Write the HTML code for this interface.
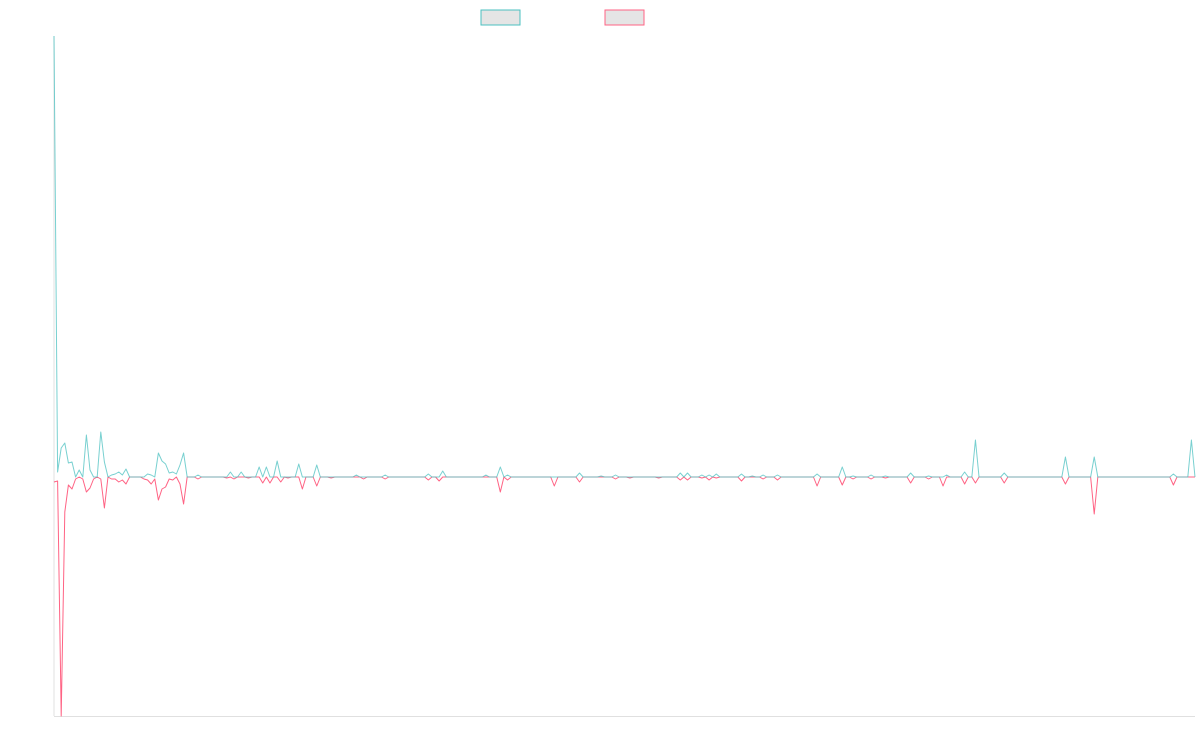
<!DOCTYPE html>
<html><head><meta charset="utf-8"><style>
html,body{margin:0;padding:0;background:#fff;}
svg{display:block;font-family:"Liberation Sans",sans-serif;}
</style></head><body>
<svg id="chart" width="1200" height="750" viewBox="0 0 1200 750" xmlns="http://www.w3.org/2000/svg">
<g>
<rect x="481" y="10" width="39" height="15" fill="#e5e5e5" stroke="rgb(75,192,192)" stroke-width="1"/>
<rect x="605" y="10" width="39" height="15" fill="#e5e5e5" stroke="rgb(255,99,132)" stroke-width="1"/>
</g>
<line x1="54" y1="36" x2="54" y2="716" stroke="#e0e0e0"/>
<line x1="54" y1="716.5" x2="1195" y2="716.5" stroke="#e0e0e0"/>
<g id="plot"></g>
</svg>
<script>
const seriesA = [
441,5,29,34,14,15,0,7,0,42,7,0,0,45,15,0,2,3,5,2,
8,0,0,0,0,0,3,2,0,24,16,13,4,5,3,12,24,0,0,0,
2,0,0,0,0,0,0,0,0,5,0,0,5,0,0,0,0,10,0,10,
0,0,16,0,0,0,0,0,13,0,0,0,0,12,0,0,0,0,0,0,
0,0,0,0,2,0,0,0,0,0,0,0,2,0,0,0,0,0,0,0,
0,0,0,0,3,0,0,0,6,0,0,0,0,0,0,0,0,0,0,0,
2,0,0,0,10,0,2,0,0,0,0,0,0,0,0,0,0,0,0,0,
0,0,0,0,0,0,4,0,0,0,0,0,1,0,0,0,2,0,0,0,
0,0,0,0,0,0,0,0,0,0,0,0,0,0,4,0,4,0,0,0,
2,0,2,0,3,0,0,0,0,0,0,3,0,0,1,0,0,2,0,0,
0,2,0,0,0,0,0,0,0,0,0,0,3,0,0,0,0,0,0,10,
0,0,1,0,0,0,0,2,0,0,0,1,0,0,0,0,0,0,4,0,
0,0,0,1,0,0,0,0,2,0,0,0,0,5,0,0,37,0,0,0,
0,0,0,0,4,0,0,0,0,0,0,0,0,0,0,0,0,0,0,0,
0,20,0,0,0,0,0,0,0,20,0,0,0,0,0,0,0,0,0,0,
0,0,0,0,0,0,0,0,0,0,0,3,0,0,0,0,37,0];
const seriesB = [
-5,-4,-239,-35,-8,-12,-2,0,-2,-15,-11,-2,0,-2,-31,0,-2,-2,-5,-3,
-7,0,0,0,0,-2,-3,-7,-2,-23,-12,-10,-2,-3,0,-7,-27,0,0,0,
-2,0,0,0,0,0,0,0,-1,0,-2,0,0,0,-1,0,0,0,-6,0,
-6,0,0,-5,0,-1,0,0,0,-12,0,0,0,-9,0,0,0,-1,0,0,
0,0,0,0,0,0,-2,0,0,0,0,0,-2,0,0,0,0,0,0,0,
0,0,0,0,-3,0,0,-4,0,0,0,0,0,0,0,0,0,0,0,0,
0,0,0,0,-15,0,-3,0,0,0,0,0,0,0,0,0,0,0,0,-9,
0,0,0,0,0,0,-5,0,0,0,0,0,0,0,0,0,-2,0,0,0,
-1,0,0,0,0,0,0,0,-1,0,0,0,0,0,-3,0,-3,0,0,0,
-1,0,-3,0,-1,0,0,0,0,0,0,-4,0,0,0,0,0,-2,0,0,
0,-3,0,0,0,0,0,0,0,0,0,0,-9,0,0,0,0,0,0,-8,
0,0,-2,0,0,0,0,-2,0,0,0,-1,0,0,0,0,0,0,-6,0,
0,0,0,-2,0,0,0,-9,0,0,0,0,0,-7,0,0,-6,0,0,0,
0,0,0,0,-6,0,0,0,0,0,0,0,0,0,0,0,0,0,0,0,
0,-7,0,0,0,0,0,0,0,-37,0,0,0,0,0,0,0,0,0,0,
0,0,0,0,0,0,0,0,0,0,0,-8,0,0,0,0,0,0];
const yMin = -239, yMax = 441;
const X0 = 54, X1 = 1195, Y0 = 716, Y1 = 36;
function xScale(i, n){ return X0 + (X1 - X0) * i / (n - 1); }
function yScale(v){ return Y0 - (v - yMin) / (yMax - yMin) * (Y0 - Y1); }
const plot = document.getElementById('plot');
function draw(data, color, name, op){
  const pts = data.map((v,i)=>xScale(i,data.length).toFixed(2)+','+yScale(v).toFixed(2)).join(' ');
  const pl = document.createElementNS('http://www.w3.org/2000/svg','polyline');
  pl.setAttribute('points', pts);
  pl.setAttribute('fill','none');
  pl.setAttribute('stroke',color);
  pl.setAttribute('stroke-width','1');
  pl.setAttribute('stroke-opacity',op);
  pl.setAttribute('stroke-linejoin','round');
  
  
  plot.appendChild(pl);
}
draw(seriesB,'rgb(255,99,132)','series-2-line','1');
draw(seriesA,'rgb(75,192,192)','series-1-line','0.75');
</script>
</body></html>
